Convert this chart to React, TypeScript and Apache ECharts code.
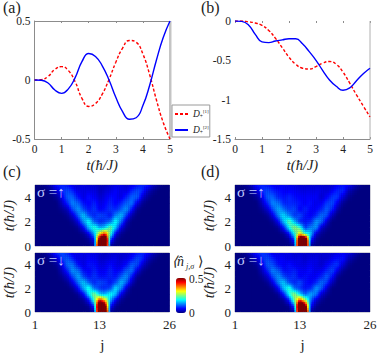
import React, { useEffect, useRef } from "react";
import * as echarts from "echarts";

const FONT = '"Liberation Serif", "Times New Roman", serif';
const times = [0, 0.25, 0.5, 0.75, 1, 1.25, 1.5, 1.75, 2, 2.25, 2.5, 2.75, 3, 3.25, 3.5, 3.75, 4, 4.25, 4.5, 4.75, 5];
const aRed = [0, 0.003, 0.03, 0.09, 0.113, 0.08, -0.015, -0.155, -0.224, -0.2, -0.12, 0.005, 0.15, 0.27, 0.335, 0.32, 0.22, 0.045, -0.17, -0.36, -0.5];
const aBlue = [0, -0.002, -0.025, -0.085, -0.113, -0.075, 0.02, 0.155, 0.224, 0.2, 0.12, 0, -0.146, -0.268, -0.333, -0.32, -0.217, -0.044, 0.17, 0.36, 0.5];
const bRed = [0, 0, -0.01, -0.025, -0.055, -0.12, -0.22, -0.34, -0.46, -0.55, -0.6, -0.61, -0.58, -0.535, -0.515, -0.55, -0.65, -0.79, -0.94, -1.08, -1.22];
const bBlue = [0, -0.005, -0.05, -0.17, -0.265, -0.275, -0.255, -0.24, -0.225, -0.225, -0.29, -0.39, -0.5, -0.63, -0.75, -0.83, -0.88, -0.85, -0.76, -0.67, -0.6];

const cUp = [
  [0,0,0,0,0,0,0,0,0,0,0,1,80,80,1,0,0,0,0,0,0,0,0,0,0,0],
  [0,0,0,0,0,0,0,0,0,0,1,6,58,78,9,1,0,0,0,0,0,0,0,0,0,0],
  [0,0,0,0,0,0,0,0,0,1,5,15,32,42,22,5,1,0,0,0,0,0,0,0,0,0],
  [0,0,0,0,0,0,0,0,1,6,16,22,15,17,25,16,5,1,0,0,0,0,0,0,0,0],
  [0,0,0,0,0,0,0,1,5,14,20,11,8,9,12,20,12,3,0,0,0,0,0,0,0,0],
  [0,0,0,0,0,0,1,4,11,17,10,8,10,9,7,13,16,9,2,0,0,0,0,0,0,0],
  [0,0,0,0,0,1,3,10,14,10,7,9,6,7,9,8,11,14,7,1,0,0,0,0,0,0],
  [0,0,0,0,0,3,8,13,11,7,6,8,5,6,8,6,8,11,12,5,1,0,0,0,0,0],
  [0,0,0,0,1,5,11,11,7,5,7,6,4,5,7,6,5,8,11,11,4,1,0,0,0,0],
  [0,0,0,1,4,8,10,8,5,5,5,5,3,4,5,6,5,5,8,10,8,3,1,0,0,0],
  [0,0,1,3,7,8,7,5,4,5,4,4,3,3,4,5,5,4,5,7,8,7,3,1,0,0],
];
const cDown = [
  [0,0,0,0,0,0,0,0,0,0,0,1,80,80,1,0,0,0,0,0,0,0,0,0,0,0],
  [0,0,0,0,0,0,0,0,0,0,1,9,80,58,7,1,0,0,0,0,0,0,0,0,0,0],
  [0,0,0,0,0,0,0,0,0,1,6,22,44,34,15,5,1,0,0,0,0,0,0,0,0,0],
  [0,0,0,0,0,0,0,0,1,6,17,26,17,15,20,15,5,1,0,0,0,0,0,0,0,0],
  [0,0,0,0,0,0,0,1,6,15,21,12,9,8,10,18,13,4,0,0,0,0,0,0,0,0],
  [0,0,0,0,0,0,1,5,12,17,11,8,10,9,7,10,16,11,3,0,0,0,0,0,0,0],
  [0,0,0,0,0,1,4,10,15,10,7,9,7,7,8,7,11,14,7,1,0,0,0,0,0,0],
  [0,0,0,0,0,3,8,14,12,7,6,8,6,6,8,6,7,11,12,5,1,0,0,0,0,0],
  [0,0,0,0,1,5,12,12,7,5,7,7,5,5,7,5,5,7,11,10,4,1,0,0,0,0],
  [0,0,0,1,4,9,11,8,5,5,6,6,4,4,5,5,4,5,7,10,8,3,1,0,0,0],
  [0,0,1,4,8,10,8,5,5,5,5,5,4,3,4,4,4,4,5,7,8,6,3,1,0,0],
];
const dUp = [
  [0,0,0,0,0,0,0,0,0,0,0,1,80,80,1,0,0,0,0,0,0,0,0,0,0,0],
  [0,0,0,0,0,0,0,0,0,0,1,8,70,70,8,1,0,0,0,0,0,0,0,0,0,0],
  [0,0,0,0,0,0,0,0,0,1,6,20,33,22,17,4,1,0,0,0,0,0,0,0,0,0],
  [0,0,0,0,0,0,0,0,1,7,19,27,22,9,13,14,4,1,0,0,0,0,0,0,0,0],
  [0,0,0,0,0,0,0,1,6,16,24,16,8,7,8,14,12,4,0,0,0,0,0,0,0,0],
  [0,0,0,0,0,0,1,5,13,18,13,9,10,7,6,8,12,10,3,0,0,0,0,0,0,0],
  [0,0,0,0,0,1,4,10,15,12,9,10,6,8,6,6,8,11,8,2,0,0,0,0,0,0],
  [0,0,0,0,0,3,8,13,12,8,8,8,7,6,7,5,6,9,10,5,1,0,0,0,0,0],
  [0,0,0,0,1,5,11,11,8,7,8,7,6,6,6,6,4,6,9,9,4,1,0,0,0,0],
  [0,0,0,1,4,8,10,8,7,6,6,6,5,5,5,5,5,4,6,8,8,3,1,0,0,0],
  [0,0,1,3,7,8,7,6,5,6,5,5,4,4,4,4,4,4,4,6,7,6,3,1,0,0],
];
const dDown = [
  [0,0,0,0,0,0,0,0,0,0,0,1,80,80,1,0,0,0,0,0,0,0,0,0,0,0],
  [0,0,0,0,0,0,0,0,0,0,1,10,80,56,7,1,0,0,0,0,0,0,0,0,0,0],
  [0,0,0,0,0,0,0,0,0,1,7,24,42,28,12,4,1,0,0,0,0,0,0,0,0,0],
  [0,0,0,0,0,0,0,0,1,7,19,27,17,11,15,12,4,1,0,0,0,0,0,0,0,0],
  [0,0,0,0,0,0,0,1,6,16,22,12,9,7,8,14,11,4,0,0,0,0,0,0,0,0],
  [0,0,0,0,0,0,1,5,13,17,10,8,10,7,6,8,12,9,3,0,0,0,0,0,0,0],
  [0,0,0,0,0,1,4,10,14,10,8,9,6,7,6,6,8,11,7,1,0,0,0,0,0,0],
  [0,0,0,0,0,3,8,13,11,7,7,8,6,6,7,5,6,8,10,5,1,0,0,0,0,0],
  [0,0,0,0,1,5,11,10,7,6,7,6,5,5,6,5,4,6,8,9,4,1,0,0,0,0],
  [0,0,0,1,4,8,10,8,6,6,5,5,5,4,5,5,4,4,6,7,7,3,1,0,0,0],
  [0,0,1,4,7,9,8,5,5,5,5,4,4,4,4,4,4,4,4,5,6,5,3,1,0,0],
];
const siteTicks = [1, 13, 26];
const mapTimeTicks = [0, 2, 4];

const AXIS_GRAY = "#8c8c8c";
const TXT = "#222";

function jet(pct: number) {
  const f = Math.min(1, Math.max(0, pct / 50));
  const c = (x: number) => Math.round(255 * Math.min(1, Math.max(0, 1.5 - Math.abs(4 * f - x))));
  return `rgb(${c(3)},${c(2)},${c(1)})`;
}

function cells(rows: number[][]) {
  const out: number[][] = [];
  rows.forEach((r, i) => r.forEach((v, k) => out.push([k + 1, i * 0.5, v])));
  return out;
}

function mapSeries(rows: number[][], axis: number) {
  const SUB = 3;
  return {
    type: "custom",
    xAxisIndex: axis,
    yAxisIndex: axis,
    silent: true,
    clip: true,
    data: cells(rows),
    encode: { x: 0, y: 1 },
    renderItem(_p: any, api: any) {
      const j = api.value(0);
      const t = api.value(1);
      const k = j - 1;
      const i = Math.round(t * 2);
      if (k >= rows[0].length - 1 || i >= rows.length - 1) return null;
      const a = rows[i][k], b = rows[i][k + 1], c = rows[i + 1][k], d = rows[i + 1][k + 1];
      const children: any[] = [];
      const box = (x0: number, y0: number, x1: number, y1: number, fill: string) => {
        const p0 = api.coord([j + x0, t + y0 / 2]);
        const p1 = api.coord([j + x1, t + y1 / 2]);
        children.push({
          type: "rect",
          shape: { x: p0[0], y: p1[1] - 0.3, width: p1[0] - p0[0] + 0.3, height: p0[1] - p1[1] + 0.3 },
          style: { fill, stroke: null },
        });
      };
      if (a === b && b === c && c === d) {
        box(0, 0, 1, 1, jet(a));
      } else {
        for (let x = 0; x < SUB; x++) {
          for (let y = 0; y < SUB; y++) {
            const u = (x + 0.5) / SUB, w = (y + 0.5) / SUB;
            const v = a * (1 - u) * (1 - w) + b * u * (1 - w) + c * (1 - u) * w + d * u * w;
            box(x / SUB, y / SUB, (x + 1) / SUB, (y + 1) / SUB, jet(v));
          }
        }
      }
      return { type: "group", children };
    },
  };
}

const legendFmt = (name: string) => `{d|D}{s|+}{u|${name.slice(1)}}`;

export default function App() {
  const ref = useRef<HTMLDivElement>(null);
  useEffect(() => {
    const chart = echarts.init(ref.current!, undefined, { renderer: "svg" });
    const tRange = [
      [34.5, 21, 135.5, 118],
      [235, 21, 135, 118],
    ];
    const mapRange = [
      [35, 185, 134.5, 61],
      [35, 253, 134.5, 60],
      [235, 185, 135, 61],
      [235, 253, 135, 60],
    ];
    const grids: any[] = [
      ...tRange.map(([left, top, width, height]) => ({ left, top, width, height, show: false })),
      ...mapRange.map(([left, top, width, height]) => ({
        left, top, width, height, show: true, borderColor: "#a0a0b4", borderWidth: 1, backgroundColor: "#00007f",
      })),
    ];
    const baseLabel = { fontFamily: FONT, fontSize: 11.5, color: TXT };
    const tName = {
      name: "t(ħ/J)",
      nameLocation: "middle",
      nameTextStyle: { fontFamily: FONT, fontStyle: "italic", fontSize: 14.5, color: TXT },
    };
    const xAxis: any[] = [
      ...[0, 1].map((g) => ({
        type: "value", gridIndex: g, min: 0, max: 5, interval: 1, position: "bottom",
        ...tName, nameGap: 18,
        axisLine: { show: true, onZero: false, lineStyle: { color: AXIS_GRAY } },
        axisTick: { show: true, inside: true, length: 2, lineStyle: { color: AXIS_GRAY } },
        axisLabel: { ...baseLabel, margin: 4 },
        splitLine: { show: false },
      })),
      ...[2, 3, 4, 5].map((g) => ({
        type: "value", gridIndex: g, min: 1, max: 26, position: "bottom",
        ...(g === 3 || g === 5
          ? { name: "j", nameLocation: "middle", nameGap: 25, nameTextStyle: { fontFamily: FONT, fontSize: 15, color: TXT } }
          : {}),
        axisLine: { show: false },
        axisTick: { show: false },
        axisLabel: g === 3 || g === 5
          ? { fontFamily: FONT, fontSize: 13, color: TXT, margin: 6, customValues: siteTicks }
          : { show: false },
        splitLine: { show: false },
      })),
      ...[0, 1].map((g) => ({
        type: "value", gridIndex: g, min: 0, max: 5, interval: 1, position: "top",
        axisLine: { show: g === 0, onZero: false, lineStyle: { color: AXIS_GRAY } },
        axisTick: { show: true, inside: true, length: 2, lineStyle: { color: AXIS_GRAY } },
        axisLabel: { show: false },
        splitLine: { show: false },
      })),
    ];
    const yAxis: any[] = [
      {
        type: "value", gridIndex: 0, min: -0.5, max: 0.5, interval: 0.5,
        axisLine: { show: true, onZero: false, lineStyle: { color: AXIS_GRAY } },
        axisTick: { show: false },
        axisLabel: { ...baseLabel, margin: 4 },
        splitLine: { show: false },
      },
      {
        type: "value", gridIndex: 1, min: -1.5, max: 0, interval: 0.5,
        axisLine: { show: false, onZero: false },
        axisTick: { show: false },
        axisLabel: { ...baseLabel, margin: 4 },
        splitLine: { show: false },
      },
      ...[2, 3, 4, 5].map((g) => ({
        type: "value", gridIndex: g, min: 0, max: 5,
        ...tName, nameGap: 19,
        axisLine: { show: false },
        axisTick: { show: false },
        axisLabel: { fontFamily: FONT, fontSize: 13, color: TXT, margin: 4, customValues: mapTimeTicks },
        splitLine: { show: false },
      })),
    ];
    const line = (name: string, vals: number[], axis: number, color: string, type: any) => ({
      name,
      type: "line",
      xAxisIndex: axis,
      yAxisIndex: axis,
      data: times.map((t, i) => [t, vals[i]]),
      smooth: 0.5,
      symbol: "none",
      lineStyle: { color, width: 1.4, type },
      itemStyle: { color },
      z: color === "#0000ff" ? 3 : 2,
    });
    const texts: any[] = [
      ["(a)", 3, -1], ["(b)", 201, -1], ["(c)", 3, 163], ["(d)", 201, 163],
    ].map(([text, x, y]) => ({
      type: "text", x, y, style: { text, fontFamily: FONT, fontSize: 16, fill: TXT },
    }));
    const sigma: any[] = [
      ["σ =↑", 37, 184], ["σ =↓", 37, 252], ["σ =↑", 237, 184], ["σ =↓", 237, 252],
    ].map(([text, x, y]) => ({
      type: "text", x, y, z: 20,
      style: { text, fontFamily: FONT, fontSize: 15, fill: "#c0ccff" },
    }));
    chart.setOption({
      animation: false,
      backgroundColor: "#fff",
      grid: grids,
      xAxis,
      yAxis,
      legend: {
        show: true,
        orient: "vertical",
        left: 172,
        top: 105,
        padding: [4, 1, 2, 2],
        itemGap: 6,
        itemWidth: 13,
        itemHeight: 10,
        borderColor: "#9a9a9a",
        borderWidth: 1,
        backgroundColor: "#fff",
        itemStyle: { opacity: 0 },
        data: ["D[1]", "D[2]"],
        formatter: legendFmt,
        textStyle: {
          rich: {
            d: { fontFamily: FONT, fontStyle: "italic", fontSize: 9.5, color: TXT },
            s: { fontFamily: FONT, fontSize: 5.5, color: TXT, verticalAlign: "bottom", padding: [3, 0, 0, 0] },
            u: { fontFamily: FONT, fontSize: 5, color: TXT, verticalAlign: "top", padding: [0, 0, 3, 0] },
          },
        },
      },
      visualMap: {
        type: "continuous",
        show: true,
        seriesIndex: [4],
        dimension: 2,
        min: 0,
        max: 50,
        left: 176,
        top: 278,
        itemWidth: 10,
        itemHeight: 35,
        padding: 0,
        text: ["", ""],
        showLabel: false,
        calculable: false,
        hoverLink: false,
        inRange: {
          color: ["#00007f", "#0000ff", "#007fff", "#00ffff", "#7fff7f", "#ffff00", "#ff7f00", "#ff0000", "#7f0000"],
        },
      },
      series: [
        line("D[1]", aRed, 0, "#ff0000", [3, 2]),
        line("D[2]", aBlue, 0, "#0000ff", "solid"),
        line("D[1]", bRed, 1, "#ff0000", [3, 2]),
        line("D[2]", bBlue, 1, "#0000ff", "solid"),
        mapSeries(cUp, 2),
        mapSeries(cDown, 3),
        mapSeries(dUp, 4),
        mapSeries(dDown, 5),
      ],
      graphic: [
        ...texts,
        ...sigma,
        { type: "rect", z: 1, shape: { x: 169, y: 21, width: 2.5, height: 118 }, style: { fill: "#c4c4c4" } },
        { type: "line", z: 1, shape: { x1: 370, y1: 21, x2: 370, y2: 139 }, style: { stroke: "#b0b0b0", lineWidth: 1 } },
        { type: "text", x: 172, y: 254, style: { text: "⟨n̂", fontFamily: FONT, fontStyle: "italic", fontSize: 14, fill: TXT } },
        { type: "text", x: 186, y: 262, style: { text: "j,σ", fontFamily: FONT, fontStyle: "italic", fontSize: 8, fill: TXT } },
        { type: "text", x: 198, y: 254, style: { text: "⟩", fontFamily: FONT, fontSize: 14, fill: TXT } },
        { type: "text", x: 189, y: 273, style: { text: "0.5", fontFamily: FONT, fontSize: 11.5, fill: TXT } },
        { type: "text", x: 189, y: 307, style: { text: "0", fontFamily: FONT, fontSize: 11.5, fill: TXT } },
      ],
    });
    return () => chart.dispose();
  }, []);
  return <div ref={ref} style={{ position: "fixed", left: 0, top: 0, width: 381, height: 353 }} />;
}
